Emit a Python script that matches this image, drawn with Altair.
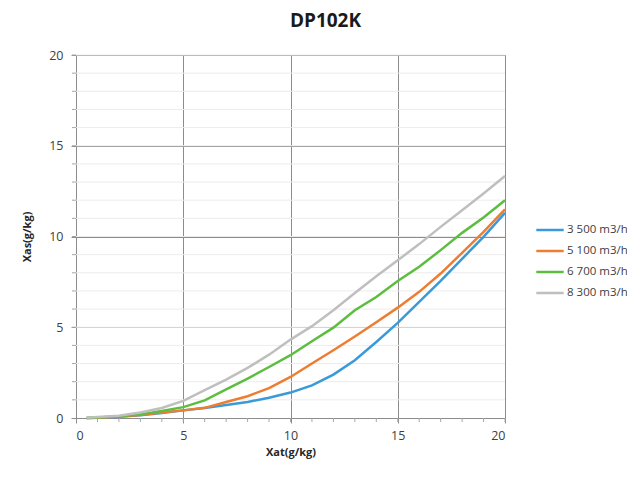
import altair as alt
import pandas as pd

xs = [0.5, 1, 2, 3, 4, 5, 6, 7, 8, 9, 10, 11, 12, 13, 14, 15, 16, 17, 18, 19, 20]
s3500 = [0.0, 0.02, 0.07, 0.15, 0.28, 0.42, 0.55, 0.72, 0.88, 1.12, 1.40, 1.80, 2.39, 3.18, 4.19, 5.24, 6.40, 7.55, 8.77, 9.98, 11.30]
s5100 = [0.0, 0.02, 0.08, 0.17, 0.30, 0.42, 0.56, 0.88, 1.20, 1.65, 2.26, 3.00, 3.73, 4.49, 5.28, 6.08, 6.95, 7.96, 9.10, 10.26, 11.49]
s6700 = [0.0, 0.03, 0.10, 0.20, 0.38, 0.60, 0.97, 1.58, 2.17, 2.81, 3.46, 4.23, 4.98, 5.94, 6.67, 7.55, 8.33, 9.25, 10.20, 11.05, 12.00]
s8300 = [0.02, 0.05, 0.12, 0.30, 0.55, 0.94, 1.53, 2.11, 2.76, 3.49, 4.32, 5.06, 5.94, 6.89, 7.81, 8.69, 9.58, 10.53, 11.45, 12.37, 13.33]
series = ["3 500 m3/h", "5 100 m3/h", "6 700 m3/h", "8 300 m3/h"]
colors = ["#3a9ad9", "#ed7d31", "#5cbd3f", "#bfbfbf"]
minor_vals = list(range(1, 21))
major_vals = [0, 5, 10, 15, 20]

rows = []
for name, vals in zip(series, [s3500, s5100, s6700, s8300]):
    for x, y in zip(xs, vals):
        rows.append({"x": x, "y": y, "s": name})
df = pd.DataFrame(rows)
minor_df = pd.DataFrame({"v": minor_vals})

xscale = alt.Scale(domain=[0, 20], nice=False)
yscale = alt.Scale(domain=[0, 20], nice=False)

minor_grid = alt.Chart(minor_df).mark_rule(color="#ececec", strokeWidth=1).encode(
    y=alt.Y("v:Q", scale=yscale), x=alt.value(0), x2=alt.value(429))
minor_ytick = alt.Chart(minor_df).mark_rule(color="#a6a6a6", strokeWidth=1).encode(
    y=alt.Y("v:Q", scale=yscale), x=alt.value(-4), x2=alt.value(0))
minor_xtick = alt.Chart(minor_df).mark_rule(color="#a6a6a6", strokeWidth=1).encode(
    x=alt.X("v:Q", scale=xscale), y=alt.value(363), y2=alt.value(367))

axis_common = dict(values=major_vals, grid=True, gridColor="#8c8c8c", tickSize=5,
                   tickColor="#8c8c8c", domainColor="#8c8c8c", labelFontSize=12.5,
                   labelColor="#404040", titleFontSize=11, titleFontWeight="bold",
                   titleColor="#262626", labelFont="Open Sans", titleFont="Open Sans")

lines = alt.Chart(df).mark_line(strokeWidth=2.5).encode(
    x=alt.X("x:Q", scale=xscale, axis=alt.Axis(title="Xat(g/kg)", labelPadding=6,
                                                 titlePadding=5, **axis_common)),
    y=alt.Y("y:Q", scale=yscale, axis=alt.Axis(title="Xas(g/kg)", labelPadding=8,
                                                 titlePadding=16, **axis_common)),
    color=alt.Color("s:N", scale=alt.Scale(domain=series, range=colors),
                    legend=alt.Legend(title=None, orient="none", legendX=459, legendY=160,
                                      symbolType="stroke", symbolSize=750, symbolStrokeWidth=2.5,
                                      labelFontSize=11.5, labelFont="Open Sans", labelColor="#404040",
                                      rowPadding=-7, labelOffset=2)),
)

chart = alt.layer(minor_grid, minor_ytick, minor_xtick, lines).properties(
    width=429, height=363,
    padding={"left": 68, "top": 47, "right": 122, "bottom": 60},
    autosize=alt.AutoSizeParams(type="none"),
    title=alt.Title("DP102K", fontSize=19, font="Open Sans", fontWeight="bold", color="#1a1a1a",
                    anchor="middle", dx=35, offset=18),
).configure_view(stroke=None)

chart.save("out.html", embed_options={"renderer": "svg", "actions": False})
